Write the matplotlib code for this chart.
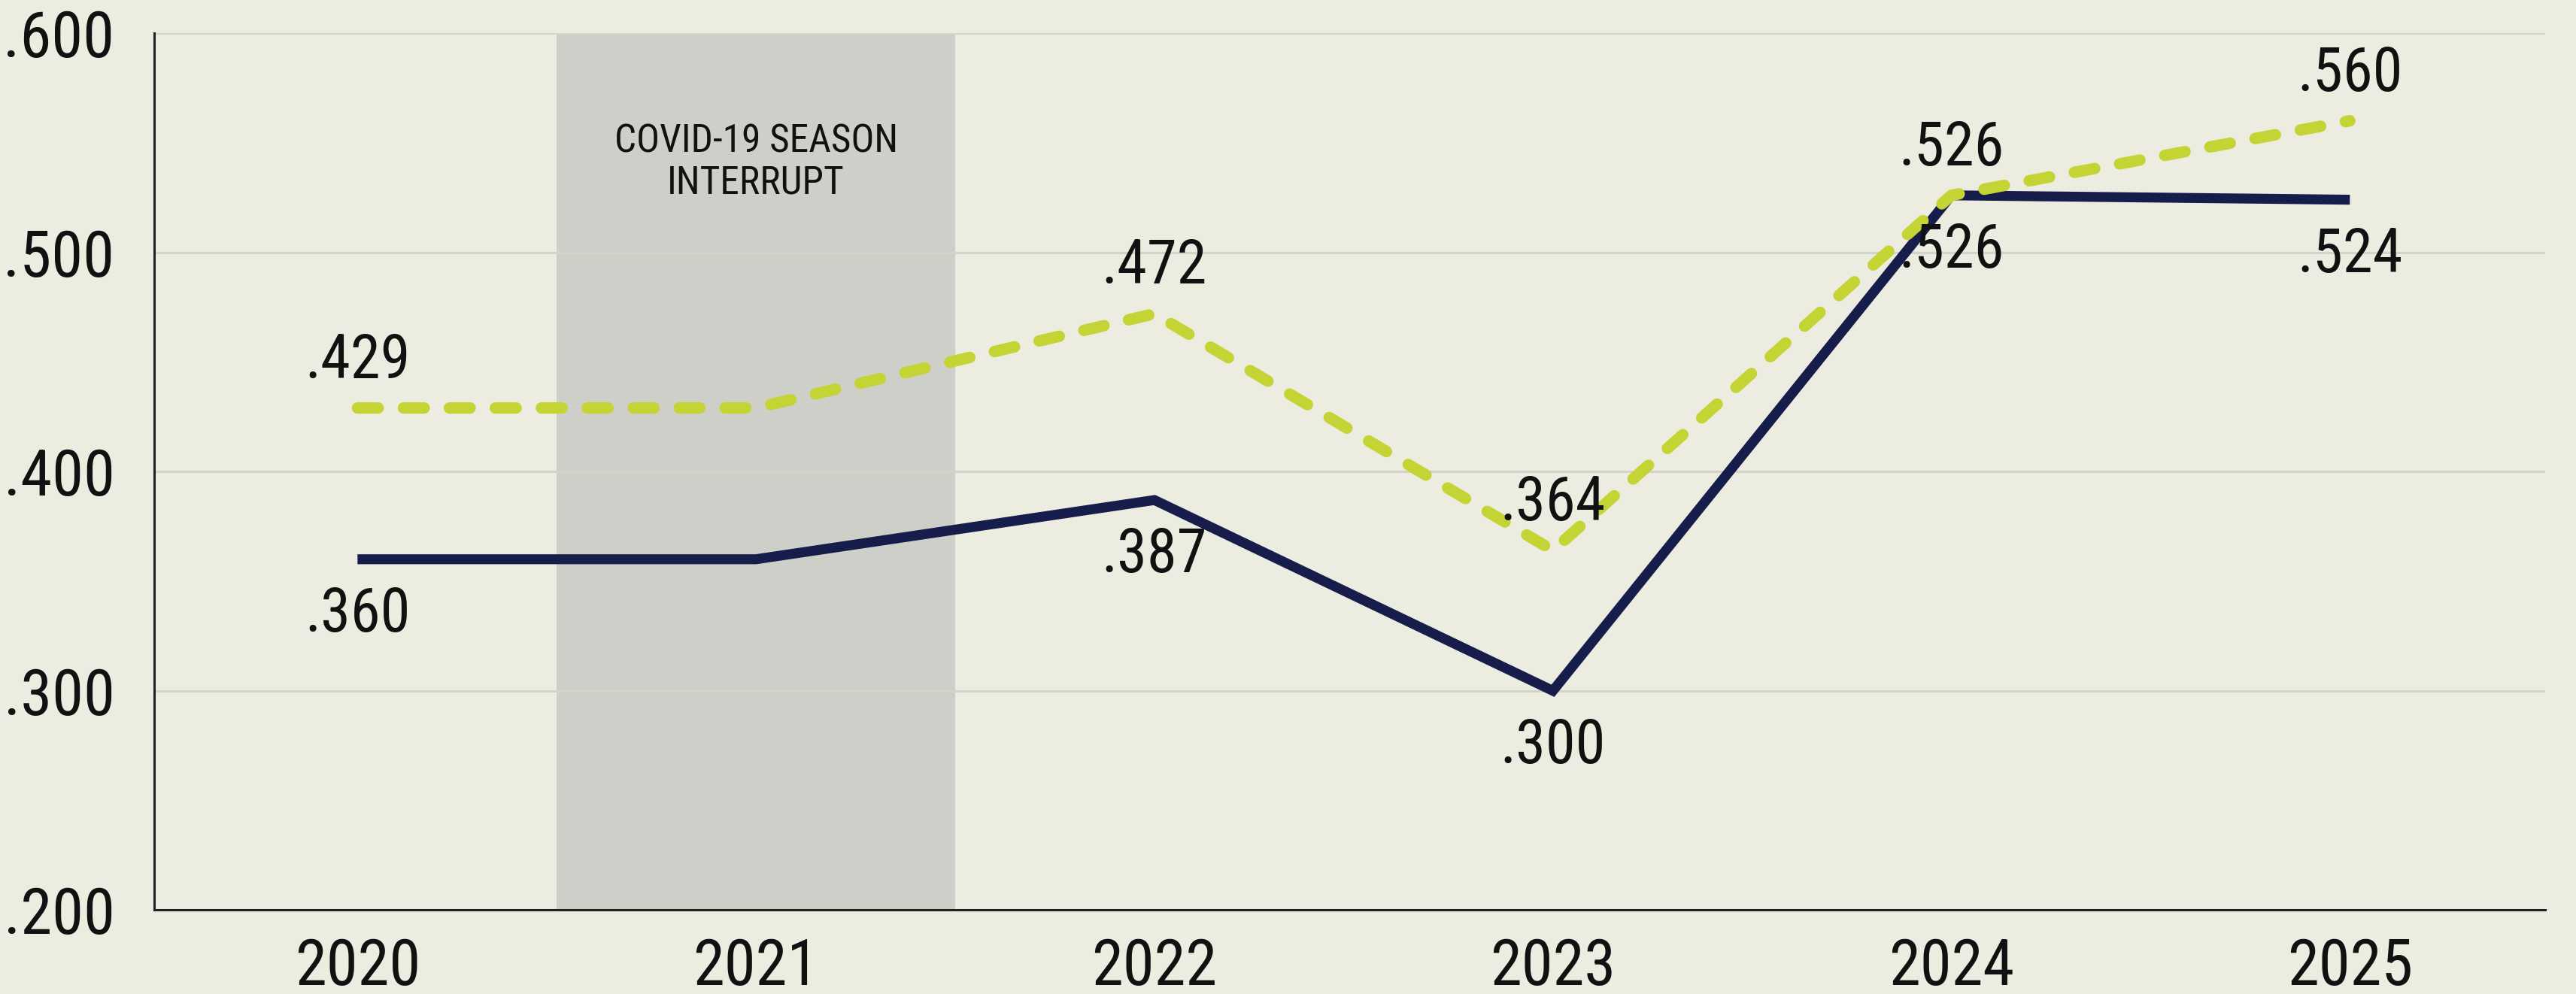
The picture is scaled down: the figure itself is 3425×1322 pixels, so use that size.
import matplotlib.pyplot as plt
from matplotlib import font_manager as fm

# --- DATA ---
years = ['2020', '2021', '2022', '2023', '2024', '2025']
navy_vals = [0.360, 0.360, 0.387, 0.300, 0.526, 0.524]
green_vals = [0.429, 0.429, 0.472, 0.364, 0.526, 0.560]
navy_labels = ['.360', '', '.387', '.300', '.526', '.524']
green_labels = ['.429', '', '.472', '.364', '.526', '.560']
yticks = [0.2, 0.3, 0.4, 0.5, 0.6]
ytick_labels = ['.200', '.300', '.400', '.500', '.600']

# --- FONT: look for a narrow / condensed sans ---
fonts = fm.fontManager.ttflist
names = {f.name for f in fonts}
family, stretch, shrink = None, 'normal', 1.0
for n in ['Liberation Sans Narrow', 'Arial Narrow', 'Roboto Condensed',
          'Open Sans Condensed', 'DejaVu Sans Condensed', 'Noto Sans Condensed']:
    if n in names:
        family = n
        break
if family is None:
    for f in fonts:
        if f.stretch in ('condensed', 'semi-condensed', 'extra-condensed'):
            family, stretch = f.name, f.stretch
            break
if family is None:
    family, shrink = 'Liberation Sans', 0.82

plt.rcParams['font.family'] = [family, 'DejaVu Sans']
plt.rcParams['font.stretch'] = stretch

# --- STYLE ---
bg = '#ecece1'
navy = '#161d4b'
green = '#c5d435'
fs_tick = 61 * shrink
fs_val = 58 * shrink
fs_note = 37 * shrink

fig = plt.figure(figsize=(34.25, 13.22), dpi=100, facecolor=bg)
ax = fig.add_axes([0.0599, 0.0845, 0.9281, 0.8822])
ax.set_facecolor(bg)

x = list(range(len(years)))

# covid shading
ax.axvspan(0.5, 1.5, color='#cfcfc9', zorder=1, lw=0)
ax.text(1, 0.541, 'COVID-19 SEASON\nINTERRUPT', ha='center', va='center',
        fontsize=fs_note, color='#111111', linespacing=1.15, zorder=5)

# grid
for t in yticks[1:]:
    ax.axhline(t, color='#d3d3ca', lw=2.2, zorder=2)

ax.plot(x, navy_vals, color=navy, lw=9.5, solid_joinstyle='miter',
        solid_capstyle='butt', zorder=3)
ax.plot(x, green_vals, color=green, lw=11, dashes=(1.8, 2.2),
        dash_capstyle='round', zorder=4)

for i in x:
    if green_labels[i]:
        ax.annotate(green_labels[i], (i, green_vals[i]), xytext=(0, 62),
                    textcoords='offset pixels', ha='center', va='center',
                    fontsize=fs_val, color='#111111', zorder=6)
    if navy_labels[i]:
        ax.annotate(navy_labels[i], (i, navy_vals[i]), xytext=(0, -74),
                    textcoords='offset pixels', ha='center', va='center',
                    fontsize=fs_val, color='#111111', zorder=6)

ax.set_xlim(-0.51, 5.49)
ax.set_ylim(0.2, 0.6)
ax.set_xticks(x)
ax.set_xticklabels(years)
ax.set_yticks(yticks)
ax.set_yticklabels(ytick_labels)
ax.tick_params(axis='both', length=0, labelsize=fs_tick, colors='#111111')
ax.tick_params(axis='x', pad=26)
ax.tick_params(axis='y', pad=38)

for s in ['top', 'right']:
    ax.spines[s].set_visible(False)
for s in ['left', 'bottom']:
    ax.spines[s].set_color('#222222')
    ax.spines[s].set_linewidth(2.2)
    ax.spines[s].set_zorder(7)

fig.savefig('out.png', dpi=100, facecolor=bg)
